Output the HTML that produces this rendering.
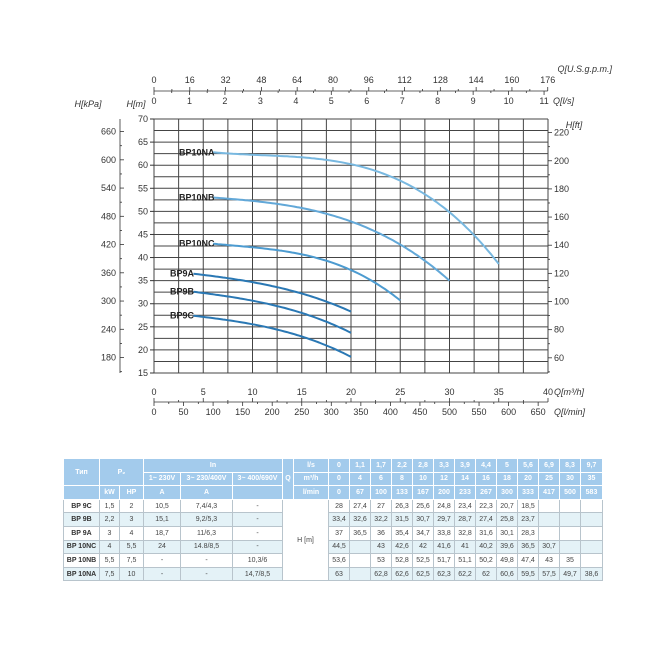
<!DOCTYPE html>
<html><head><meta charset="utf-8"><style>
body{margin:0;background:#fff;width:650px;height:650px;overflow:hidden;font-family:"Liberation Sans",sans-serif}
svg{position:absolute;left:0;top:0}
table{position:absolute;left:63px;top:458px;border-collapse:collapse;font-family:"Liberation Sans",sans-serif;font-size:7px;color:#444}
td{border:1px solid #b8c4cc;text-align:center;padding:0;height:12.6px}
tr.h td{background:#a3cbec;color:#fff;font-weight:bold;border-color:#fff}
tr.l td{background:#e4f2f7}
td.w{background:#fff!important}
td.n{font-weight:bold;color:#333}
</style></head><body>
<svg id="s" width="650" height="650" xmlns="http://www.w3.org/2000/svg"></svg>
<table>
<colgroup><col style="width:36px"><col style="width:20px"><col style="width:24px"><col style="width:37px"><col style="width:52px"><col style="width:50px"><col style="width:11px"><col style="width:35px">
<col style="width:21px"><col style="width:21px"><col style="width:21px"><col style="width:21px"><col style="width:21px"><col style="width:21px"><col style="width:21px"><col style="width:21px"><col style="width:21px"><col style="width:21px"><col style="width:21px"><col style="width:21px"><col style="width:22px"></colgroup>
<tr class="h"><td rowspan="2">Тип</td><td colspan="2" rowspan="2">P₂</td><td colspan="3">In</td><td rowspan="3">Q</td><td>l/s</td><td>0</td><td>1,1</td><td>1,7</td><td>2,2</td><td>2,8</td><td>3,3</td><td>3,9</td><td>4,4</td><td>5</td><td>5,6</td><td>6,9</td><td>8,3</td><td>9,7</td></tr>
<tr class="h"><td>1~ 230V</td><td>3~ 230/400V</td><td>3~ 400/690V</td><td>m³/h</td><td>0</td><td>4</td><td>6</td><td>8</td><td>10</td><td>12</td><td>14</td><td>16</td><td>18</td><td>20</td><td>25</td><td>30</td><td>35</td></tr>
<tr class="h"><td></td><td>kW</td><td>HP</td><td>A</td><td>A</td><td></td><td>l/min</td><td>0</td><td>67</td><td>100</td><td>133</td><td>167</td><td>200</td><td>233</td><td>267</td><td>300</td><td>333</td><td>417</td><td>500</td><td>583</td></tr>
<tr class="d"><td class="n">BP 9C</td><td>1,5</td><td>2</td><td>10,5</td><td>7,4/4,3</td><td>-</td><td colspan="2" rowspan="6" class="w">H [m]</td><td>28</td><td>27,4</td><td>27</td><td>26,3</td><td>25,6</td><td>24,8</td><td>23,4</td><td>22,3</td><td>20,7</td><td>18,5</td><td></td><td></td><td></td></tr>
<tr class="d l"><td class="n">BP 9B</td><td>2,2</td><td>3</td><td>15,1</td><td>9,2/5,3</td><td>-</td><td>33,4</td><td>32,6</td><td>32,2</td><td>31,5</td><td>30,7</td><td>29,7</td><td>28,7</td><td>27,4</td><td>25,8</td><td>23,7</td><td></td><td></td><td></td></tr>
<tr class="d"><td class="n">BP 9A</td><td>3</td><td>4</td><td>18,7</td><td>11/6,3</td><td>-</td><td>37</td><td>36,5</td><td>36</td><td>35,4</td><td>34,7</td><td>33,8</td><td>32,8</td><td>31,6</td><td>30,1</td><td>28,3</td><td></td><td></td><td></td></tr>
<tr class="d l"><td class="n">BP 10NC</td><td>4</td><td>5,5</td><td>24</td><td>14.8/8,5</td><td>-</td><td>44,5</td><td></td><td>43</td><td>42,6</td><td>42</td><td>41,6</td><td>41</td><td>40,2</td><td>39,6</td><td>36,5</td><td>30,7</td><td></td><td></td></tr>
<tr class="d"><td class="n">BP 10NB</td><td>5,5</td><td>7,5</td><td>-</td><td>-</td><td>10,3/6</td><td>53,6</td><td></td><td>53</td><td>52,8</td><td>52,5</td><td>51,7</td><td>51,1</td><td>50,2</td><td>49,8</td><td>47,4</td><td>43</td><td>35</td><td></td></tr>
<tr class="d l"><td class="n">BP 10NA</td><td>7,5</td><td>10</td><td>-</td><td>-</td><td>14,7/8,5</td><td>63</td><td></td><td>62,8</td><td>62,6</td><td>62,5</td><td>62,3</td><td>62,2</td><td>62</td><td>60,6</td><td>59,5</td><td>57,5</td><td>49,7</td><td>38,6</td></tr>
</table>
<script>
var s=document.getElementById('s'),o='';
function X(q){return 154+q*9.85}
function Y(h){return 373-(h-15)*4.618}
function L(a,b,c,d,w,col){o+='<line x1="'+a+'" y1="'+b+'" x2="'+c+'" y2="'+d+'" stroke="'+(col||'#333')+'" stroke-width="'+(w||1)+'"/>'}
function T(x,y,t,a,st){o+='<text x="'+x+'" y="'+y+'" font-size="9" fill="#333" text-anchor="'+(a||'middle')+'" '+(st||'')+'>'+t+'</text>'}
for(var i=0;i<=16;i++)L(X(i*2.5),Y(70),X(i*2.5),Y(15),1,'#444');
for(var h=15;h<=70;h+=2.5)L(154,Y(h),548,Y(h),1,'#444');
for(var h=15;h<=70;h+=5){L(150,Y(h),154,Y(h));T(148,Y(h)+3,h,'end')}
L(120,119,120,373,0.8);
for(var k=150;k<=680;k+=30){var yy=Y(k/9.81);if(yy>=119&&yy<=373)L(120,yy,k%60?122:124,yy,0.8)}
for(var k=180;k<=660;k+=60){T(116,Y(k/9.81)+3,k,'end')}
for(var f=50;f<=230;f+=10){var yy=Y(f*0.3048);if(yy>=119&&yy<=373)L(548,yy,f%20?550:552,yy,0.8)}
for(var f=60;f<=220;f+=20)T(554,Y(f*0.3048)+3,f,'start');
L(154,91,X(176*0.22712),91,0.8);
for(var g=0;g<=176;g+=8){var xx=X(g*0.22712);L(xx,91,xx,g%16?89:87,0.8)}
for(var g=0;g<=176;g+=16)T(X(g*0.22712),83,g);
for(var l=0;l<=11;l+=0.5){var xx=X(l*3.6);L(xx,91,xx,l%1?93:95,0.8)}
for(var l=0;l<=11;l++)T(X(l*3.6),104,l);
L(154,402,X(40),402,0.8);
for(var q=0;q<=40;q+=2.5){L(X(q),402,X(q),q%5?400:398,0.8)}
for(var q=0;q<=40;q+=5)T(X(q),395,q);
for(var m=0;m<=650;m+=25){var xx=X(m*0.06);L(xx,402,xx,m%50?404:406,0.8)}
for(var m=0;m<=650;m+=50)T(X(m*0.06),415,m);
var it='font-style="italic"';
T(88,107,'H[kPa]','middle',it);T(136,107,'H[m]','middle',it);T(574,128,'H[ft]','middle',it);
T(553,104,'Q[l/s]','start',it);T(612,72,'Q[U.S.g.p.m.]','end',it);
T(554,395,'Q[m³/h]','start',it);T(554,415,'Q[l/min]','start',it);
function fit(pts){var n=4,A=[],i,j,k;for(i=0;i<n;i++){A.push([]);for(j=0;j<=n;j++)A[i].push(0)}
pts.forEach(function(p){for(i=0;i<n;i++){for(j=0;j<n;j++)A[i][j]+=Math.pow(p[0],i+j);A[i][n]+=p[1]*Math.pow(p[0],i)}});
for(i=0;i<n;i++){var m=i;for(k=i+1;k<n;k++)if(Math.abs(A[k][i])>Math.abs(A[m][i]))m=k;var t=A[i];A[i]=A[m];A[m]=t;
for(k=i+1;k<n;k++){var f=A[k][i]/A[i][i];for(j=i;j<=n;j++)A[k][j]-=f*A[i][j]}}
var c=[0,0,0,0];for(i=n-1;i>=0;i--){var sm=A[i][n];for(j=i+1;j<n;j++)sm-=A[i][j]*c[j];c[i]=sm/A[i][i]}return c}
var C=[['BP9C',[[4,27.4],[6,27],[8,26.3],[10,25.6],[12,24.8],[14,23.4],[16,22.3],[18,20.7],[20,18.5]],'#2a78b4',170],
['BP9B',[[4,32.6],[6,32.2],[8,31.5],[10,30.7],[12,29.7],[14,28.7],[16,27.4],[18,25.8],[20,23.7]],'#2a78b4',170],
['BP9A',[[4,36.5],[6,36],[8,35.4],[10,34.7],[12,33.8],[14,32.8],[16,31.6],[18,30.1],[20,28.3]],'#2a78b4',170],
['BP10NC',[[6,43],[8,42.6],[10,42],[12,41.6],[14,41],[16,40.2],[18,39.6],[20,36.5],[25,30.7]],'#4c9bd0',179],
['BP10NB',[[6,53],[8,52.8],[10,52.5],[12,51.7],[14,51.1],[16,50.2],[18,49.8],[20,47.4],[25,43],[30,35]],'#62a8d8',179],
['BP10NA',[[6,62.8],[8,62.6],[10,62.5],[12,62.3],[14,62.2],[16,62],[18,60.6],[20,59.5],[25,57.5],[30,49.7],[35,38.6]],'#78b8e0',179]];
C.forEach(function(c){var d=c[1],c0=fit(d),q0=d[0][0],q1=d[d.length-1][0],p=[];
var h0=d[0][1],h1=d[d.length-1][1],e0=h0-(c0[0]+c0[1]*q0+c0[2]*q0*q0+c0[3]*q0*q0*q0),e1=h1-(c0[0]+c0[1]*q1+c0[2]*q1*q1+c0[3]*q1*q1*q1);
for(var q=q0;q<=q1+0.001;q+=0.25){var t=(q-q0)/(q1-q0);var h=c0[0]+c0[1]*q+c0[2]*q*q+c0[3]*q*q*q+e0*(1-t)+e1*t;p.push(X(q).toFixed(1)+','+Y(h).toFixed(1))}
o+='<polyline points="'+p.join(' ')+'" fill="none" stroke="'+c[2]+'" stroke-width="2" stroke-linejoin="round"/>';
o+='<text x="'+c[3]+'" y="'+(Y(h0)+3)+'" font-size="9" font-weight="bold" fill="#222">'+c[0]+'</text>'});
s.innerHTML=o;
</script>
</body></html>
